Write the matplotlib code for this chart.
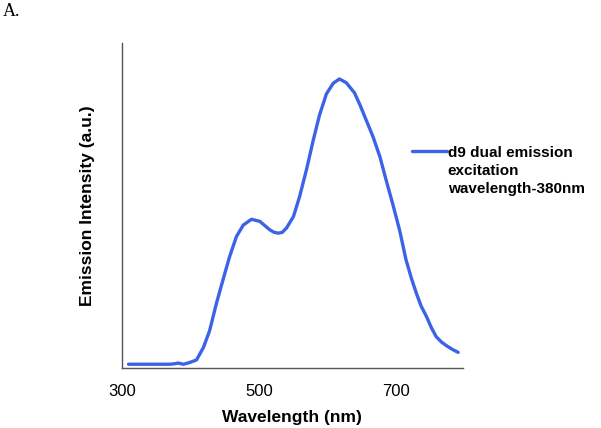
import matplotlib.pyplot as plt
import numpy as np

# emission spectrum (normalised to main peak)
wavelength = [310, 330, 350, 370, 378, 382, 390, 399, 409, 419, 428, 438,
              448, 457, 467, 477, 489, 501, 510, 516, 522, 528, 534, 540,
              550, 559, 569, 579, 588, 598, 608, 617, 627, 639, 647, 656,
              666, 676, 685, 695, 705, 714, 722, 729, 736, 744, 751, 758,
              766, 773, 781, 790]
intensity = [0.014, 0.014, 0.014, 0.014, 0.016, 0.018, 0.014, 0.020, 0.029,
             0.072, 0.130, 0.225, 0.310, 0.385, 0.455, 0.495, 0.515, 0.508,
             0.490, 0.478, 0.470, 0.467, 0.470, 0.485, 0.524, 0.593, 0.686,
             0.789, 0.875, 0.948, 0.985, 1.000, 0.987, 0.952, 0.910, 0.858,
             0.800, 0.731, 0.651, 0.565, 0.474, 0.375, 0.310, 0.260, 0.215,
             0.178, 0.140, 0.109, 0.090, 0.078, 0.066, 0.055]
x_ticks = [300, 500, 700]
series_label = "d9 dual emission\nexcitation\nwavelength-380nm"

plt.rcParams["font.family"] = ["Liberation Sans", "DejaVu Sans"]

fig = plt.figure(figsize=(6.01, 4.28), dpi=100)
ax = fig.add_axes([0.2025, 0.1395, 0.5679, 0.7605])

ax.plot(wavelength, intensity, color="#3b63e8", lw=2.4,
        solid_capstyle="round", solid_joinstyle="round", label=series_label)

ax.set_xlim(300, 797)
ax.set_ylim(0, 1.125)
ax.set_xticks(x_ticks)
ax.set_yticks([])
ax.tick_params(axis="x", length=0, labelsize=12, pad=11)

for s in ["top", "right"]:
    ax.spines[s].set_visible(False)
for s in ["left", "bottom"]:
    ax.spines[s].set_color("#555555")
    ax.spines[s].set_linewidth(1.0)

ax.set_xlabel("Wavelength (nm)", fontsize=12.5, fontweight="bold", labelpad=8)
ax.set_ylabel("Emission Intensity (a.u.)", fontsize=12.5, fontweight="bold",
              labelpad=19)

leg = fig.legend(loc="upper left", bbox_to_anchor=(0.675, 0.674), frameon=False,
                 prop={"size": 11, "weight": "bold"}, handlelength=2.3,
                 handletextpad=0.05, borderaxespad=0)
for t in leg.get_texts():
    t.set_linespacing(1.4)
# put the handle next to the first line of the label
for row in leg._legend_handle_box.get_children():
    for entry in row.get_children():
        entry.align = "top"

fig.text(0.005, 0.972, "A.", family="Liberation Serif", fontsize=13,
         va="center", ha="left")

fig.savefig("out.png", dpi=100)
